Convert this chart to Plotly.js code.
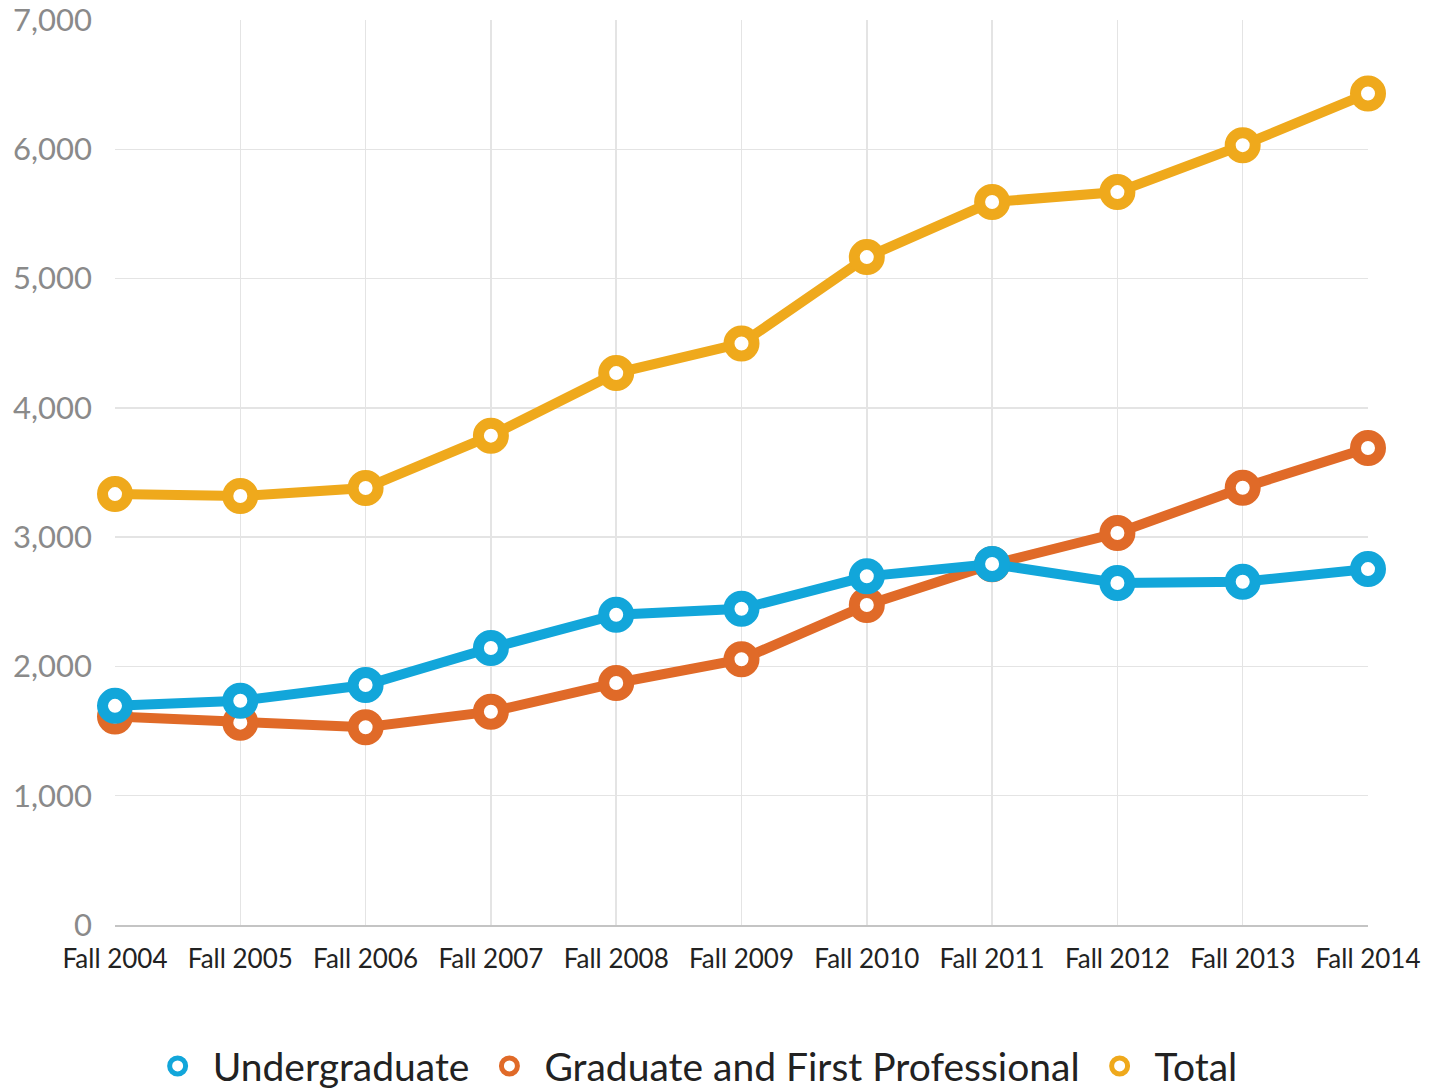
<!DOCTYPE html>
<html>
<head>
<meta charset="utf-8">
<script src="https://cdn.plot.ly/plotly-3.0.1.min.js"></script>
<style>html,body{margin:0;padding:0;background:#fff;}#chart{width:1443px;height:1089px;}</style>
</head>
<body>
<div id="chart"></div>
<script>
const categories = ["Fall 2004","Fall 2005","Fall 2006","Fall 2007","Fall 2008","Fall 2009","Fall 2010","Fall 2011","Fall 2012","Fall 2013","Fall 2014"];
const undergraduate = [1695, 1735, 1856, 2142, 2400, 2446, 2697, 2792, 2645, 2655, 2753];
const graduate = [1612, 1565, 1530, 1650, 1872, 2055, 2475, 2790, 3032, 3382, 3689];
const total = [3333, 3318, 3380, 3785, 4269, 4498, 5166, 5592, 5669, 6032, 6432];
const yTicks = [0, 1000, 2000, 3000, 4000, 5000, 6000, 7000];

const names = ["Total", "Graduate and First Professional", "Undergraduate"];
const colors = ["#EFA91C", "#E06A28", "#12A6DA"];
const series = [total, graduate, undergraduate];

const traces = series.map((vals, i) => ({
  type: "scatter",
  mode: "lines+markers",
  name: names[i],
  x: categories,
  y: vals,
  cliponaxis: false,
  line: {color: colors[i], width: 10},
  marker: {color: "#ffffff", size: 25, line: {color: colors[i], width: 11}},
  showlegend: false,
  hoverinfo: "x+y"
}));
const legendTraces = series.map((vals, i) => ({
  type: "scatter",
  mode: "markers",
  name: names[i],
  x: [null],
  y: [null],
  marker: {color: "#ffffff", size: 16, line: {color: colors[i], width: 5}},
  showlegend: true
}));

const layout = {
  width: 1443,
  height: 1089,
  paper_bgcolor: "#ffffff",
  plot_bgcolor: "#ffffff",
  font: {family: "Lato, sans-serif", color: "#222"},
  margin: {l: 115, r: 75, t: 20, b: 164},
  showlegend: true,
  legend: {
    orientation: "h",
    xref: "container",
    yref: "container",
    x: 0.48, xanchor: "center",
    y: 0.021, yanchor: "middle",
    traceorder: "reversed",
    font: {size: 39, color: "#222"},
    itemwidth: 60
  },
  xaxis: {
    type: "category",
    range: [0, 10],
    showgrid: true,
    gridcolor: "#e4e4e4",
    gridwidth: 1.5,
    showline: true,
    linecolor: "#c4c4c4",
    linewidth: 2,
    zeroline: false,
    ticks: "",
    ticklabelstandoff: 10,
    tickfont: {size: 26, color: "#222"},
    automargin: false,
    fixedrange: true
  },
  yaxis: {
    range: [0, 7000],
    tickvals: yTicks,
    tickformat: ",d",
    showgrid: true,
    gridcolor: "#e4e4e4",
    gridwidth: 1.5,
    showline: false,
    zeroline: false,
    ticks: "",
    ticklabelstandoff: 22,
    ticklabeloverflow: "allow",
    tickfont: {size: 31, color: "#8a8a8a"},
    automargin: false,
    fixedrange: true
  }
};

Plotly.newPlot("chart", traces.concat(legendTraces), layout, {displayModeBar: false, staticPlot: true});
</script>
</body>
</html>
